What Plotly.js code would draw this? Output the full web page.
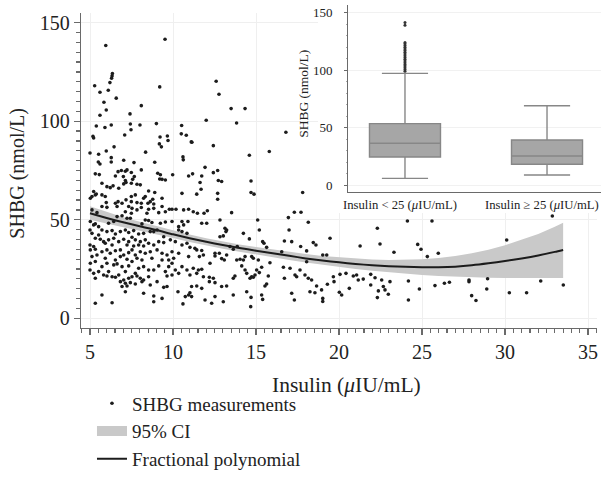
<!DOCTYPE html>
<html>
<head>
<meta charset="utf-8">
<script src="https://cdn.plot.ly/plotly-3.0.1.min.js"></script>
<style>html,body{margin:0;padding:0;background:#fff}</style>
</head>
<body>
<div id="chart" style="width:602px;height:496px"></div>
<script>
// ---- Data ----
const measurements = [
[5.95,138.4],[9.52,141.6],[6.33,123],[6.35,124.2],[6.3,121.8],[5.28,118],[6.2,119.6],[5.6,114.7],[6.1,115.7],[9.2,117.4],[6.58,111.7],[5.84,109.6],[8.09,107.9],[5.98,105.7],[5.6,103],[7.41,103.7],[5.38,97.6],[5.9,96.8],[6.28,98.1],[7.43,98.6],[7.47,95.7],[8.01,98.1],[9.0,98.8],[7.09,93],[5.18,92.3],[5.22,91.5],[9.22,92],[9.66,92.5],[9.7,90.2],[9.18,88.5],[9.3,87],[6.45,87],[5.0,83.9],[5.52,83.2],[5.98,84.9],[8.35,84.3],[6.28,81.5],[6.28,79.3],[5.5,79.3],[5.6,78.3],[7.03,80.2],[7.65,79],[8.9,79.2],[10.52,97.8],[10.5,93.6],[10.8,92.9],[11.1,89.5],[10.6,81.9],[10.62,80.4],
[12.6,120.3],[12.77,113.7],[13.5,106.4],[14.34,106.4],[12.0,100.5],[13.83,99.1],[11.14,89.3],[12.43,87.6],[14.6,82.7],[15.8,84.6],[16.8,94.4],
[5.32,73.3],[5.56,72.9],[6.53,72.2],[6.69,74.4],[6.89,75],[7.13,74.6],[7.23,75.3],[7.49,74],[7.67,71.9],[7.01,71.9],[8.09,75.3],[9.08,73.6],[9.24,72.8],[9.98,72.8],[10.94,72.2],
[7.13,69.9],[7.57,70.5],[9.2,70.7],[9.34,70.5],[9.54,70.2],[5.72,68.5],[7.03,68.2],[7.17,68.9],[7.49,68.5],[7.83,68],[8.03,67.7],
[6.02,66.8],[6.22,66.3],[6.39,67.2],[6.73,66],[8.53,64.6],[8.9,63.8],[10.54,63.4],[5.22,64.3],[5.38,63.1],
[5.02,60.9],[5.12,61.8],[5.32,62.6],[5.72,62.6],[5.92,61.8],[7.49,61.8],[7.73,62.6],[8.23,60.9],[8.33,61.8],[8.78,60.4],[9.34,60.9],[7.49,59.2],[6.93,58.4],[5.98,58.7],[6.53,58.4],[6.69,59.2],[7.17,60.1],[7.83,58.7],[8.09,58.4],[8.49,58.4],[8.63,59.2],[8.84,58],
[5.72,56.7],[6.02,56.3],[6.63,56.7],[7.33,56.7],[7.53,55.8],[7.83,55],[8.09,56.2],[8.53,55.3],[8.84,55.8],[9.34,56.7],[9.78,55.3],[9.94,55.3],[10.18,55.3],[10.64,55],[10.94,55.3],[5.12,55],[5.42,53.6],[7.13,54.1],[7.49,53.3],[8.43,53.3],[9.14,53.6],[9.54,54.1],
[5.02,49.1],[5.32,47.9],[5.52,46.5],[5.22,47.4],[6.63,51.6],[6.93,52],[7.23,50.8],[7.43,50.8],[8.33,49.9],[8.53,49.6],[8.73,48.6],[9.24,48.2],[9.54,48.9],[9.94,49.1],[10.54,49.1],[10.9,49.1],[10.64,47.4],[10.34,46.5],[8.13,47.9],[6.12,48.2],[6.43,49.1],
[5.72,44.8],[6.02,44],[6.33,44.5],[6.53,42.8],[6.83,44],[7.13,44.8],[7.33,43.5],[7.63,44.5],[7.93,42.8],[8.23,43.1],[5.0,44.8],[5.12,43.1],[5.52,42.3],[8.63,44],[8.84,44],[9.04,44.8],[10.34,44.8],[10.54,44],[10.84,43.1],[9.44,41.4],
[5.32,40.6],[5.62,40.1],[5.82,38.9],[6.12,39.8],[6.43,40.6],[6.73,38.9],[7.03,40.1],[7.33,38.9],[7.53,41.1],[7.73,39.8],[8.03,38.9],[8.33,39.8],[8.53,38.1],[8.84,37.2],[9.14,38.9],[9.44,38.4],[9.84,39.8],[10.14,38.9],[10.54,37.2],[10.84,38.1],[5.0,37.2],[5.22,36.4],[5.92,38.1],[6.33,37.2],[7.23,37.2],[7.63,36.7],[7.93,37.2],[8.23,36.7],
[5.02,34.7],[5.32,35],[5.72,33.8],[6.02,34.7],[6.22,33],[6.53,34.3],[6.83,34.7],[7.03,32.1],[7.33,33.3],[7.53,34.7],[7.73,32.1],[8.03,33.8],[8.33,33],[8.63,33.8],[9.04,34.7],[9.34,33],[9.64,32.1],[9.94,33.8],[10.34,33],[10.94,31.3],[5.12,31.3],[5.42,32.1],[5.92,30.5],[6.53,29.6],[6.83,31.3],[7.23,30],[7.83,30.5],[8.13,29.6],[8.73,30.5],[9.34,29.6],[9.74,29.6],[10.04,30.5],
[5.02,27.9],[5.32,28.8],[5.72,26.2],[6.02,27.9],[6.43,27.1],[6.63,27.6],[6.93,26.2],[7.33,26.6],[7.53,28.8],[7.93,25.4],[8.23,26.2],[8.53,24.5],[8.84,24.5],[9.14,26.6],[9.74,26.2],[9.94,27.9],[10.14,24.5],[10.54,26.2],[10.84,24.5],[5.0,24.5],[5.22,22.8],[5.52,23.7],[6.12,23.7],[7.13,23.7],[7.73,22.8],[9.54,23.7],[10.34,22.8],
[5.32,20.3],[5.82,22],[6.02,21.5],[6.33,21.1],[6.53,20.8],[6.73,22],[7.03,19.4],[7.33,20.3],[7.53,21.1],[7.83,21.5],[8.03,20.3],[8.23,19.4],[8.53,21.1],[9.04,18.6],[9.64,21.5],[9.94,22],[6.83,18.6],[7.13,17.8],[7.43,18.1],[7.73,17.4],[8.13,18.6],[8.63,16.9],[6.93,16.1],[7.23,16.4],[9.44,15.7],[9.64,16.1],
[8.23,12.7],[8.84,11.3],[9.34,10.1],[5.72,11.8],[7.13,13.5],[10.74,11],[10.94,11.8],[8.84,8.4],[10.3,13.5],[5.32,7.6],[6.33,7.9],[10.6,7.3],
[11.18,73.3],[11.93,76.6],[11.73,72.2],[12.43,73.9],[12.69,75],[11.63,68.9],[11.69,65.5],[11.43,63],[12.73,69.9],[12.93,69.4],[12.69,63.4],[12.69,60.4],[14.7,69.7],[14.7,63.8],[14.88,63],[11.22,54.1],[11.47,53.3],[11.87,53.3],[12.07,54.6],[13.53,53.6],[11.73,48.2],[12.03,48.2],[12.83,49.9],[15.1,49.9],[16.95,51.1],[17.31,53.8],[17.71,53.8],[17.81,63.8],[18.15,48.7],[13.13,45.7],[13.23,44.8],[13.19,44],[14.24,43.1],[14.6,40.3],[15.2,44.8],[16.99,44.8],[12.83,41.4],[13.03,41.8],[15.4,38.9],[15.48,38.1],[15.64,36],[16.71,39.2],[17.15,38.9],[17.69,36.4],[18.05,34.2],[18.45,38.4],[18.61,37.2],
[11.02,36],[11.32,35.5],[11.43,34.7],[11.73,34.4],[11.83,32.1],[11.59,31.3],[12.53,33],[12.53,31.6],[12.79,33],[12.93,30.3],[13.09,29.6],[12.23,27.9],[11.22,25.4],[11.53,24.5],[11.73,24.9],[11.02,22],[11.43,22.8],[11.83,21.1],[12.19,20.8],[11.12,16.1],[11.43,16.4],[11.73,15.2],[12.19,18.6],[12.43,20.3],[12.53,18.1],[12.93,16.1],[13.23,16.4],[13.63,20.3],[13.73,21.5],[13.84,29.6],[14.04,30],[14.14,26.6],[14.34,24.5],[14.44,22.8],[14.64,20.3],[14.74,21.1],[14.84,20.8],[14.94,22],[15.04,24.5],[15.2,23.2],[15.34,25.9],[15.84,28.2],[15.74,21.5],[15.54,16.4],[15.64,17.4],[14.74,31.3],[14.84,30.5],[15.14,29.6],[14.24,29.6],[14.34,31.3],[13.43,36.4],[13.23,32.1],[13.63,35],[13.87,36.4],[11.02,13],[11.12,11],[11.93,9.3],[12.33,7.6],[13.03,8.4],[12.53,11],[13.63,11.8],[14.44,13.5],[14.7,10.6],[15.34,11.8],[15.4,9.6],[14.68,5.9],[16.65,25.9],[16.71,20.3],[17.05,25.4],[17.35,22],[17.45,21.1],[17.95,22],[18.15,20.3],[17.65,24.5],[18.35,19.4],[18.65,16.4],[17.15,12.7],[17.31,9.3],[18.25,13.5],[18.55,13],[16.55,33.8],[18.05,28.7],
[19.02,32.1],[19.26,32.1],[19.46,40.6],[19.66,21.1],[19.7,18.6],[19.3,17.3],[19.02,10.1],[19.02,8.5],[18.95,14.4],[20.06,22.3],[20.42,22.8],[20.86,21.5],[21.06,22],[21.16,19.4],[21.46,19.9],[20.62,15.2],[20.02,13.2],[20.16,11.8],[21.27,36.7],[21.91,22.3],[22.17,20.6],[21.91,16.9],[22.31,45.7],[22.47,37.7],[22.57,19.4],[22.67,16.1],[22.77,14.4],[22.97,12.2],[22.37,13.9],[22.31,10.5],[23.07,18.6],[23.31,33.5],[24.12,49.4],[24.18,18.9],[24.18,9.3],[24.74,37.5],[24.94,35],[24.84,14.9],[25.32,31.3],[25.6,49.4],[25.98,33],[25.78,16.6],[26.35,17.8],[26.65,18.3],[27.83,19.4],[27.83,18.6],[27.99,11.5],[28.25,9],[28.9,14.9],[28.95,20.1],[30.1,39.7],[30.26,13],[31.3,13],[32.15,18.9],[32.85,51.9],[33.51,16.9]
];
const insulin = measurements.map(p => p[0]);
const shbg = measurements.map(p => p[1]);

const fitX     = [5, 6, 7, 8, 9, 10, 11, 12, 13, 14, 15, 16, 17, 18, 19, 20, 21, 22, 23, 24, 25, 26, 27, 28, 29, 30, 31, 32, 33, 33.5];
const fitY     = [53.3, 50.9, 48.7, 46.7, 44.8, 42.6, 40.6, 38.8, 37.2, 35.7, 34.3, 33.0, 31.7, 30.4, 29.3, 28.4, 27.6, 26.9, 26.4, 26.1, 25.9, 25.9, 26.2, 26.9, 27.9, 29.1, 30.4, 31.9, 33.7, 34.7];
const ciUpper  = [56.8, 53.9, 51.3, 49.0, 46.8, 44.6, 42.5, 40.6, 39.0, 37.5, 36.2, 34.9, 33.7, 32.6, 31.6, 30.9, 30.2, 29.8, 29.6, 29.7, 30.0, 30.6, 31.6, 33.0, 34.8, 37.1, 39.8, 42.8, 46.5, 48.5];
const ciLower  = [50.0, 48.0, 46.2, 44.4, 42.7, 40.7, 38.7, 36.9, 35.3, 33.8, 32.3, 30.9, 29.6, 28.3, 27.1, 26.0, 25.0, 24.1, 23.3, 22.6, 22.0, 21.5, 21.1, 20.8, 20.6, 20.5, 20.4, 20.4, 20.4, 20.4];

// Inset box plot
const groupLabels = ['Insulin &lt; 25 (<i>μ</i>IU/mL)', 'Insulin ≥ 25 (<i>μ</i>IU/mL)'];
const boxLowerFence = [5.8, 8.7];
const boxQ1         = [24.4, 18.0];
const boxMedian     = [36.3, 25.2];
const boxQ3         = [53.4, 39.2];
const boxUpperFence = [97.2, 69.0];
const outliersLow   = [99, 100.5, 102, 103.5, 105, 106.5, 108, 109.5, 111, 112.5, 114, 115.5, 117, 118.5, 120, 121.5, 123, 124, 139, 141.5];

const legendNames = ['SHBG measurements', '95% CI', 'Fractional polynomial'];
const xTitle = 'Insulin (<i>μ</i>IU/mL)';
const yTitle = 'SHBG (nmol/L)';

const FONT = 'Liberation Serif, Times New Roman, serif';
const DARK = '#1c1c1c';
const AXC = '#6a6a6a';
const BAND = '#c9c9c9';

const traces = [
  {x: fitX, y: ciLower, type: 'scatter', mode: 'lines', line: {width: 0, color: BAND},
   showlegend: false, hoverinfo: 'skip', xaxis: 'x', yaxis: 'y'},
  {x: fitX, y: ciUpper, type: 'scatter', mode: 'lines', fill: 'tonexty', fillcolor: BAND,
   line: {width: 0, color: BAND}, showlegend: false, hoverinfo: 'skip', xaxis: 'x', yaxis: 'y'},
  {x: insulin, y: shbg, type: 'scatter', mode: 'markers', name: legendNames[0], legendrank: 1,
   marker: {size: 3.6, color: DARK}, xaxis: 'x', yaxis: 'y'},
  // legend entry for the confidence band (drawn as a thick grey swatch)
  {x: [null], y: [null], type: 'scatter', mode: 'lines', name: legendNames[1], legendrank: 2,
   line: {width: 10, color: BAND}, hoverinfo: 'skip', xaxis: 'x', yaxis: 'y'},
  {x: fitX, y: fitY, type: 'scatter', mode: 'lines', name: legendNames[2], legendrank: 3,
   line: {color: DARK, width: 2, shape: 'spline', smoothing: 0.6}, xaxis: 'x', yaxis: 'y'},
  // empty subplot holding the white background of the inset
  {x: [], y: [], type: 'scatter', mode: 'markers', showlegend: false, hoverinfo: 'skip', xaxis: 'x2', yaxis: 'y2'},
  {type: 'box', x: groupLabels, q1: boxQ1, median: boxMedian, q3: boxQ3,
   lowerfence: boxLowerFence, upperfence: boxUpperFence, boxpoints: false,
   width: 0.5, whiskerwidth: 0.65, fillcolor: '#a6a6a6', line: {color: '#878787', width: 1.4},
   showlegend: false, hoverinfo: 'skip', xaxis: 'x3', yaxis: 'y3'},
  {type: 'scatter', mode: 'markers', x: outliersLow.map(() => groupLabels[0]), y: outliersLow,
   marker: {size: 3, color: '#333'}, showlegend: false, hoverinfo: 'skip', xaxis: 'x3', yaxis: 'y3'}
];

const annotations = [
  {text: xTitle, xref: 'paper', yref: 'paper', x: 0.5115, y: -0.178, xanchor: 'center', yanchor: 'middle',
   showarrow: false, font: {size: 21.5, family: FONT, color: '#222'}},
  {text: yTitle, xref: 'paper', yref: 'paper', x: -0.121, y: 0.478, xanchor: 'center', yanchor: 'middle',
   textangle: -90, showarrow: false, font: {size: 20, family: FONT, color: '#222'}},
  {text: yTitle, xref: 'paper', yref: 'paper', x: 0.4288, y: 0.725, xanchor: 'center', yanchor: 'middle',
   textangle: -90, showarrow: false, font: {size: 13.5, family: FONT, color: '#222'}}
].concat(groupLabels.map((g, i) => ({
  text: g, xref: 'x3', yref: 'y3', x: i, y: -5.83, xanchor: 'center', yanchor: 'top', yshift: -4, xshift: -5,
  showarrow: false, font: {size: 12.7, family: FONT, color: '#222'}
})));

const layout = {
  width: 602, height: 496,
  margin: {l: 81, r: 1, t: 5, b: 168, autoexpand: false},
  paper_bgcolor: '#ffffff', plot_bgcolor: '#ffffff',
  font: {family: FONT, color: '#222'},
  showlegend: true,
  legend: {xref: 'container', yref: 'container', x: 0.1528, y: 0.225, xanchor: 'left', yanchor: 'top',
           font: {size: 19, family: FONT, color: '#222'}, bgcolor: 'rgba(0,0,0,0)', traceorder: 'normal',
           itemwidth: 30, tracegroupgap: 0},
  xaxis: {domain: [0, 0.9923], range: [4.458, 35.54], tick0: 5, dtick: 5, automargin: false,
          showline: true, linecolor: AXC, linewidth: 1.2, ticks: 'outside', ticklen: 6, tickcolor: AXC, tickwidth: 1.2,
          showgrid: true, gridcolor: '#efefef', gridwidth: 1, zeroline: false,
          tickfont: {size: 20, family: FONT, color: '#222'},
          minor: {dtick: 0.5, ticks: 'outside', ticklen: 3.5, tickcolor: AXC, showgrid: false},
          anchor: 'y'},
  yaxis: {domain: [0, 0.9752], range: [-4.92, 154.9], tick0: 0, dtick: 50, automargin: false,
          showline: true, linecolor: AXC, linewidth: 1.2, ticks: 'outside', ticklen: 6, tickcolor: AXC, tickwidth: 1.2,
          showgrid: true, gridcolor: '#efefef', gridwidth: 1, zeroline: false,
          tickfont: {size: 20, family: FONT, color: '#222'},
          minor: {dtick: 5, ticks: 'outside', ticklen: 3.5, tickcolor: AXC, showgrid: false},
          anchor: 'x'},
  xaxis2: {domain: [0.4558, 1], range: [0, 1], visible: false, anchor: 'y2', fixedrange: true},
  yaxis2: {domain: [0.356, 1], range: [0, 1], visible: false, anchor: 'x2', fixedrange: true},
  xaxis3: {domain: [0.5135, 1], anchor: 'y3', type: 'category', range: [-0.401, 1.38], automargin: false,
           showline: true, linecolor: AXC, linewidth: 1, ticks: '', showgrid: false, zeroline: false,
           showticklabels: false},
  yaxis3: {domain: [0.422, 1], anchor: 'x3', range: [-5.83, 156.7], tick0: 0, dtick: 50, automargin: false,
           showline: true, linecolor: AXC, linewidth: 1, ticks: 'outside', ticklen: 3, tickcolor: AXC,
           showgrid: true, gridcolor: '#f1f1f1', zeroline: false, ticklabelstandoff: 9,
           tickfont: {size: 13, family: FONT, color: '#222'},
           minor: {dtick: 10, ticks: 'outside', ticklen: 1.5, tickcolor: '#aaa', showgrid: false}},
  annotations: annotations,
  shapes: [
    {type: 'rect', xref: 'x2', yref: 'y2', x0: -0.05, x1: 1.05, y0: -0.05, y1: 1.05,
     fillcolor: '#ffffff', line: {width: 0}, layer: 'below'}
  ]
};

Plotly.newPlot('chart', traces, layout, {staticPlot: true, displayModeBar: false});
</script>
</body>
</html>
